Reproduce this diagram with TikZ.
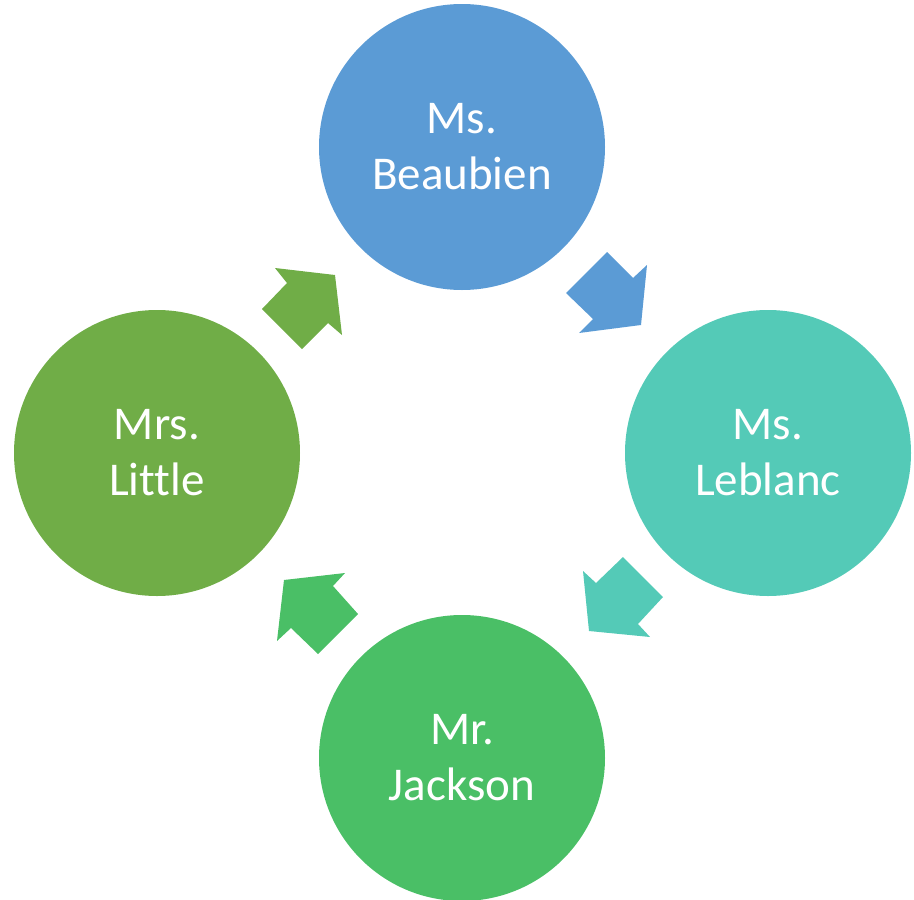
\documentclass[tikz,border=0pt]{standalone}
\usepackage{fontspec}
\setmainfont[Ligatures=NoCommon]{Carlito}
\usepackage{tikz}
\definecolor{beaublue}{RGB}{91,155,213}
\definecolor{leblancteal}{RGB}{84,202,183}
\definecolor{jacksongreen}{RGB}{74,191,102}
\definecolor{littlegreen}{RGB}{112,173,71}
\tikzset{person/.style={circle, minimum size=286pt, inner sep=0pt, text=white,
  align=center, font=\fontsize{47}{56}\selectfont}}

\begin{document}
\begin{tikzpicture}[x=1pt, y=-1pt]
\useasboundingbox (0,0) rectangle (914,900);
\node[person, fill=beaublue] (beaubien) at (462, 147) {Ms.\\Beaubien};
\node[person, fill=leblancteal] (leblanc) at (768, 453) {Ms.\\Leblanc};
\node[person, fill=jacksongreen] (jackson) at (462, 758) {Mr.\\Jackson};
\node[person, fill=littlegreen] (little) at (157, 453) {Mrs.\\Little};
\fill[beaublue] (607,252) -- (566,293) -- (593,319) -- (579,333) -- (641,325) -- (647,265) -- (633,278) -- cycle;
\fill[leblancteal] (623,557) -- (663,597) -- (638,624) -- (650,637) -- (589,631) -- (583,571) -- (596,583) -- cycle;
\fill[jacksongreen] (358,614) -- (318,654) -- (291,628) -- (277,641) -- (284,580) -- (345,573) -- (333,586) -- cycle;
\fill[littlegreen] (262,309) -- (302,349) -- (328,323) -- (342,335) -- (335,275) -- (275,268) -- (287,283) -- cycle;
\end{tikzpicture}
\end{document}
